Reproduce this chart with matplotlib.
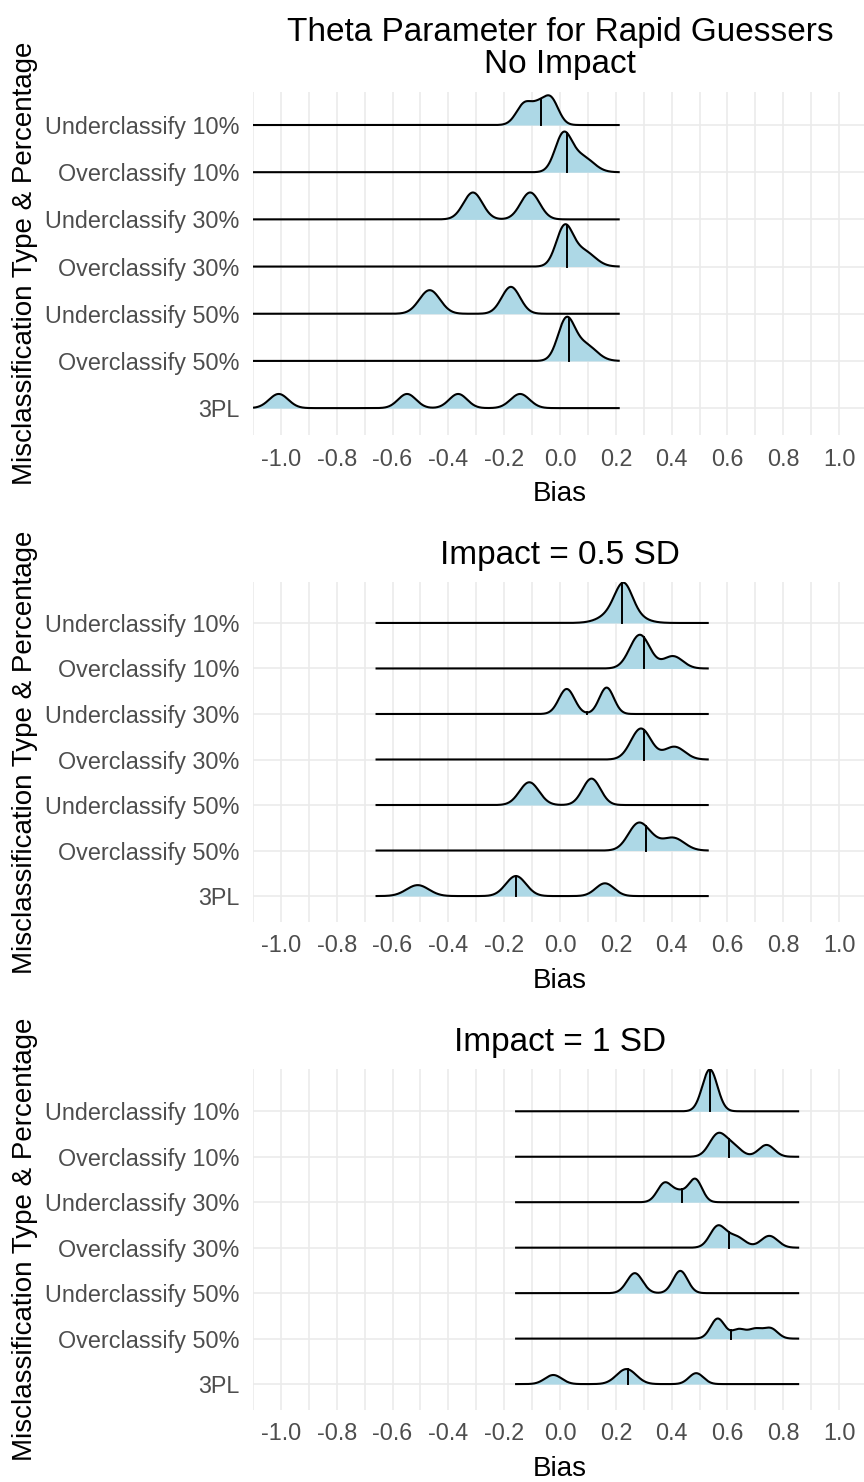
import numpy as np, matplotlib
matplotlib.use("Agg"); import matplotlib.pyplot as plt

plt.rcParams["font.family"] = ["Liberation Sans", "DejaVu Sans"]
plt.rcParams["axes.unicode_minus"] = False

# rows bottom -> top
rows = ["3PL", "Overclassify 50%", "Underclassify 50%", "Overclassify 30%",
        "Underclassify 30%", "Overclassify 10%", "Underclassify 10%"]
x_ticks = [-1.0, -0.8, -0.6, -0.4, -0.2, 0.0, 0.2, 0.4, 0.6, 0.8, 1.0]

# density bumps: (centre, spread, height in row units)
noimp_peaks = {
    "Underclassify 10%": [(-0.125, 0.03, 0.47), (-0.078, 0.022, 0.22), (-0.035, 0.028, 0.58)],
    "Overclassify 10%": [(0.012, 0.03, 0.78), (0.08, 0.04, 0.32)],
    "Underclassify 30%": [(-0.312, 0.034, 0.57), (-0.107, 0.034, 0.57)],
    "Overclassify 30%": [(0.016, 0.03, 0.82), (0.085, 0.04, 0.32)],
    "Underclassify 50%": [(-0.467, 0.037, 0.50), (-0.176, 0.033, 0.57)],
    "Overclassify 50%": [(0.022, 0.03, 0.85), (0.09, 0.04, 0.34)],
    "3PL": [(-1.008, 0.034, 0.30), (-0.548, 0.032, 0.30), (-0.365, 0.032, 0.30), (-0.143, 0.034, 0.30)],
}
noimp_median = {"Underclassify 10%": -0.069, "Overclassify 10%": 0.026, "Underclassify 30%": -0.21,
                "Overclassify 30%": 0.026, "Underclassify 50%": -0.32, "Overclassify 50%": 0.033,
                "3PL": -0.457}
noimp_range = (-1.1, 0.214)

half_peaks = {
    "Underclassify 10%": [(0.228, 0.03, 0.55), (0.22, 0.055, 0.34)],
    "Overclassify 10%": [(0.286, 0.036, 0.74), (0.405, 0.035, 0.27)],
    "Underclassify 30%": [(0.024, 0.028, 0.55), (0.167, 0.026, 0.58)],
    "Overclassify 30%": [(0.29, 0.036, 0.68), (0.41, 0.037, 0.28)],
    "Underclassify 50%": [(-0.11, 0.035, 0.50), (0.113, 0.032, 0.58)],
    "Overclassify 50%": [(0.28, 0.036, 0.58), (0.33, 0.03, 0.12), (0.405, 0.04, 0.28)],
    "3PL": [(-0.51, 0.04, 0.24), (-0.158, 0.036, 0.44), (0.161, 0.033, 0.28)],
}
half_median = {"Underclassify 10%": 0.221, "Overclassify 10%": 0.30, "Underclassify 30%": 0.097,
               "Overclassify 30%": 0.30, "Underclassify 50%": 0.0, "Overclassify 50%": 0.307,
               "3PL": -0.158}
half_range = (-0.661, 0.533)

one_peaks = {
    "Underclassify 10%": [(0.537, 0.027, 0.92)],
    "Overclassify 10%": [(0.565, 0.03, 0.48), (0.62, 0.03, 0.22), (0.74, 0.028, 0.26)],
    "Underclassify 30%": [(0.375, 0.026, 0.42), (0.43, 0.025, 0.2), (0.485, 0.024, 0.5)],
    "Overclassify 30%": [(0.565, 0.028, 0.46), (0.63, 0.032, 0.24), (0.75, 0.03, 0.26)],
    "Underclassify 50%": [(0.268, 0.028, 0.44), (0.431, 0.026, 0.49)],
    "Overclassify 50%": [(0.565, 0.025, 0.44), (0.64, 0.025, 0.2), (0.7, 0.025, 0.2), (0.755, 0.025, 0.22)],
    "3PL": [(-0.024, 0.03, 0.2), (0.238, 0.035, 0.33), (0.488, 0.026, 0.24)],
}
one_median = {"Underclassify 10%": 0.538, "Overclassify 10%": 0.605, "Underclassify 30%": 0.437,
              "Overclassify 30%": 0.605, "Underclassify 50%": 0.355, "Overclassify 50%": 0.613,
              "3PL": 0.242}
one_range = (-0.161, 0.857)

titles = ["Theta Parameter for Rapid Guessers\nNo Impact", "Impact = 0.5 SD", "Impact = 1 SD"]


def dens(x, peaks):
    return sum(h * np.exp(-0.5 * ((x - m) / s) ** 2) for m, s, h in peaks)


W, H = 864, 1482
fig = plt.figure(figsize=(W / 100, H / 100), dpi=100)
GRID = "#EBEBEB"
panels = [(92, 435, 7.70, noimp_peaks, noimp_median, noimp_range),
          (582, 922, 7.90, half_peaks, half_median, half_range),
          (1069, 1410, 7.93, one_peaks, one_median, one_range)]

for k, (top, bot, ytop, peaks, medians, span) in enumerate(panels):
    ax = fig.add_axes([253 / W, 1 - bot / H, (867 - 253) / W, (bot - top) / H])
    ax.set_xlim(-1.1, 1.1); ax.set_ylim(0.43, ytop)
    for v in np.arange(-11, 12) / 10:
        ax.axvline(v, color=GRID, lw=1.2, zorder=0)
    for i in range(len(rows)):
        ax.axhline(i + 1, color=GRID, lw=1.2, zorder=0)
    x = np.linspace(span[0], span[1], 900)
    for i, row in enumerate(rows):
        y0 = i + 1; z = 30 - 3 * i
        d = dens(x, peaks[row])
        ax.fill_between(x, y0, y0 + d, color="#ADD8E6", lw=0, zorder=z)
        ax.plot(x, y0 + d, color="black", lw=1.5, zorder=z + 1, solid_capstyle="butt")
        m = medians[row]
        ax.plot([m, m], [y0, y0 + dens(np.array(m), peaks[row])], color="black", lw=1.4, zorder=z + 1)
    ax.set_xticks(x_ticks, [f"{t:.1f}" for t in x_ticks])
    ax.set_yticks(range(1, len(rows) + 1), rows)
    ax.tick_params(axis="x", length=0, pad=9, labelsize=16.8, labelcolor="#4D4D4D")
    ax.tick_params(axis="y", length=0, pad=9.5, labelsize=16.8, labelcolor="#4D4D4D")
    for s in ax.spines.values():
        s.set_visible(False)
    cx = (253 + 867) / 2 / W
    fig.text(cx, 1 - (top - 18.5) / H, titles[k], ha="center", va="baseline",
             fontsize=24, linespacing=1.05)
    fig.text(cx, 1 - (bot + 66) / H, "Bias", ha="center", va="baseline", fontsize=20)
    fig.text(25 / W, 1 - (top + bot) / 2 / H, "Misclassification Type & Percentage",
             rotation=90, ha="center", va="center", fontsize=20)

fig.savefig("out.png", dpi=100)
